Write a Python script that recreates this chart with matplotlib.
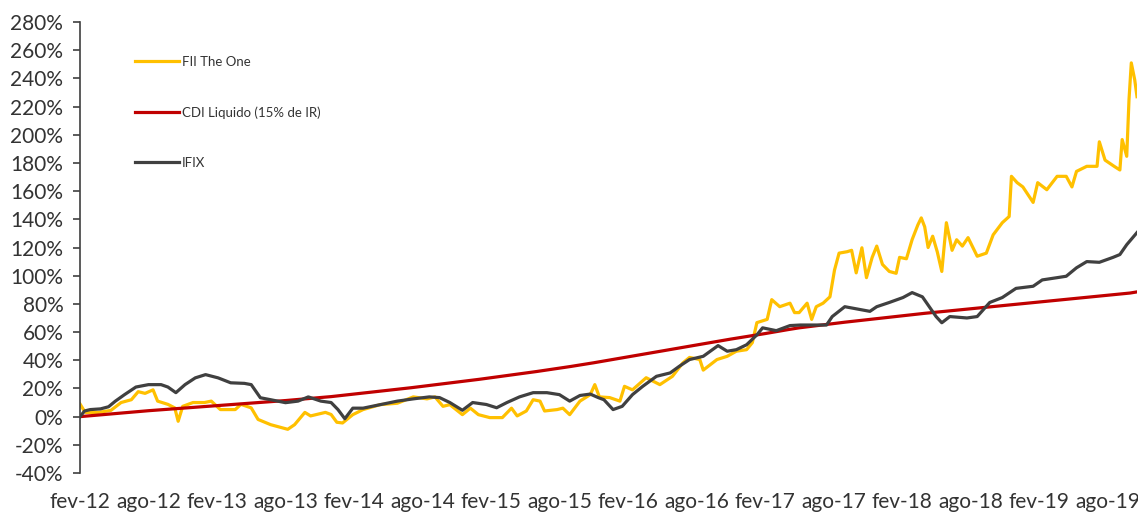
import matplotlib
matplotlib.use("Agg")
import matplotlib.pyplot as plt
from matplotlib.ticker import FuncFormatter

plt.rcParams['font.family'] = ['Lato', 'DejaVu Sans']

# x values are months since Feb 2012
tick_labels = ["fev-12", "ago-12", "fev-13", "ago-13", "fev-14", "ago-14", "fev-15", "ago-15",
               "fev-16", "ago-16", "fev-17", "ago-17", "fev-18", "ago-18", "fev-19", "ago-19"]

cdi_months = list(range(93)) + [92.6]
cdi_vals = [0.0, 0.7, 1.4, 2.1, 2.8, 3.5, 4.2, 4.8, 5.4, 6.0,
            6.6, 7.2, 7.8, 8.4, 9.0, 9.6, 10.2, 10.8, 11.4, 12.1,
            12.8, 13.5, 14.2, 15.1, 16.0, 16.9, 17.8, 18.7, 19.6, 20.5,
            21.5, 22.5, 23.5, 24.5, 25.5, 26.5, 27.6, 28.7, 29.8, 30.9,
            32.0, 33.2, 34.4, 35.6, 36.9, 38.2, 39.6, 41.0, 42.4, 43.8,
            45.2, 46.6, 48.0, 49.4, 50.8, 52.2, 53.6, 55.0, 56.3, 57.6,
            58.9, 60.3, 61.7, 63.0, 64.0, 65.0, 66.0, 67.0, 67.9, 68.8,
            69.7, 70.6, 71.5, 72.4, 73.3, 74.1, 74.9, 75.7, 76.5, 77.3,
            78.1, 78.9, 79.7, 80.5, 81.3, 82.1, 82.9, 83.7, 84.5, 85.3,
            86.1, 86.9, 87.7, 88.5]

ifix_months = [0.0, 0.4, 0.9, 1.8, 2.5, 3.1, 3.9, 4.9, 6.0, 7.1, 7.7, 8.4, 9.2, 10.1, 11.0,
               12.1, 13.2, 14.4, 15.0, 15.8, 16.7, 18.0, 19.1, 20.0, 21.1, 22.0, 22.6, 23.2,
               23.9, 24.8, 26.3, 27.8, 29.2, 30.6, 31.5, 32.4, 33.5, 34.4, 35.6, 36.5, 37.4,
               38.5, 39.7, 40.9, 42.0, 42.9, 43.8, 44.7, 45.4, 45.9, 46.7, 47.5, 48.4, 49.3,
               50.5, 51.7, 52.5, 53.4, 54.6, 55.9, 56.7, 57.5, 58.4, 59.3, 59.8, 61.0, 62.2,
               63.1, 64.2, 65.4, 65.9, 67.0, 68.0, 69.2, 69.8, 70.9, 72.1, 72.9, 73.8, 74.4,
               75.0, 75.5, 76.2, 77.7, 78.6, 79.7, 80.8, 82.0, 83.5, 84.3, 85.6, 86.4, 87.3,
               88.2, 89.3, 90.5, 91.1, 91.7, 92.6]
ifix_vals = [0, 4, 5, 5.5, 7, 11, 15.6, 21, 22.7, 22.7, 21, 17, 22.7, 27.5, 29.8,
             27.5, 24, 23.6, 22.7, 13.4, 12, 9.9, 11, 14, 11, 10, 5, -1.5,
             6, 6, 8.5, 11, 12.6, 14, 13.5, 10, 4.5, 10, 8.6, 6.3, 10,
             14, 17, 17, 15.6, 11, 15, 16, 13.5, 12, 5, 7.3, 15.6, 21.5,
             28.6, 31, 35.7, 40.5, 42.8, 50.4, 46.4, 47.5, 51, 58, 63, 61, 64.6,
             65, 65, 65, 71, 78, 76.5, 74.7, 78, 81, 84.5, 88, 85, 78,
             71, 66.6, 71, 70, 71, 81, 84.5, 91, 92.5, 97, 98.6, 99.6, 105.6,
             110, 109.5, 113, 115, 122, 130.6]

fii_months = [0.0, 0.3, 0.5, 1.6, 2.7, 3.6, 4.5, 5.1, 5.7, 6.4, 6.8, 7.7, 8.3, 8.6, 9.0,
              9.9, 10.9, 11.5, 12.3, 13.6, 14.1, 15.0, 15.6, 16.7, 18.2, 18.8, 19.7, 20.2,
              21.5, 22.0, 22.5, 23.0, 23.9, 24.8, 26.3, 27.8, 29.2, 30.4, 31.1, 31.8, 32.4,
              33.5, 34.2, 34.9, 35.9, 37.0, 37.8, 38.3, 39.1, 39.7, 40.3, 40.7, 41.8, 42.3,
              42.9, 43.8, 44.7, 45.1, 45.5, 46.4, 47.3, 47.7, 48.4, 49.6, 50.8, 51.9, 52.8,
              53.4, 54.3, 54.6, 55.8, 56.7, 57.5, 58.4, 58.9, 59.3, 60.2, 60.6, 61.3, 62.2,
              62.6, 63.0, 63.7, 64.1, 64.5, 65.1, 65.7, 66.1, 66.5, 67.2, 67.6, 68.0, 68.5,
              68.9, 69.4, 69.8, 70.3, 70.9, 71.5, 71.8, 72.4, 72.9, 73.4, 73.7, 74.0, 74.3,
              74.7, 75.1, 75.5, 75.9, 76.4, 76.8, 77.3, 77.8, 78.6, 79.4, 80.0, 80.8, 81.4,
              81.6, 82.1, 82.6, 83.5, 83.9, 84.7, 85.6, 86.4, 86.9, 87.3, 88.2, 89.1, 89.3,
              89.8, 90.6, 91.1, 91.3, 91.7, 91.9, 92.1, 92.4, 92.6]
fii_vals = [9, 5, 3, 3, 4.4, 10, 12, 17.7, 16.5, 19, 11, 8.7, 6.2, -3.3, 7.3,
            10, 10, 11, 5, 5, 8.7, 6.2, -2, -5.7, -9, -5.7, 3, 0.5,
            3, 1.5, -4, -4.5, 1.4, 5, 8.5, 9.5, 14, 12.6, 14, 7.3, 8.5,
            1.4, 6, 1.4, -0.7, -0.7, 6, 0.5, 4, 12, 11, 4, 5, 6,
            1.4, 11, 15.6, 22.7, 14, 13.5, 11, 21.5, 19, 27.6, 22.7, 28.6, 38,
            42, 40.5, 33, 40.5, 42.8, 46.4, 47.5, 52.5, 66.7, 69, 83, 78, 80.5,
            73.8, 73.8, 80.5, 69, 78, 80.5, 85, 104, 116, 117, 118, 102, 119.8,
            98.6, 113, 121, 108, 103, 101.7, 113, 112, 125.6, 136, 141, 134.7, 120,
            128, 117, 103, 137.6, 118, 125.5, 121, 127, 113.8, 116, 129, 137.6, 142,
            170.5, 166, 163, 152, 166, 161, 170.5, 170.5, 163, 174, 177.6, 177.6, 195,
            182, 177.6, 175, 196.6, 184.7, 225, 251, 239, 227]

fig = plt.figure(figsize=(11.38, 5.13), dpi=100)
ax = fig.add_axes([80 / 1138, 1 - 473 / 513, 1057 / 1138, 451 / 513])

ax.plot(fii_months, fii_vals, color="#FFC000", lw=2.3, label="FII The One")
ax.plot(cdi_months, cdi_vals, color="#C00000", lw=2.3, label="CDI Liquido (15% de IR)")
ax.plot(ifix_months, ifix_vals, color="#404040", lw=2.3, label="IFIX")

ax.set_xlim(0, 92.6)
ax.set_ylim(-40, 280)
ax.set_yticks(range(-40, 281, 20))
ax.yaxis.set_major_formatter(FuncFormatter(lambda v, p: f"{int(v)}%"))
ax.set_xticks(range(0, 91, 6))
ax.set_xticklabels(tick_labels)

for s in ["top", "right", "bottom"]:
    ax.spines[s].set_visible(False)
ax.spines["left"].set_color("#404040")
ax.spines["left"].set_linewidth(1.2)
ax.tick_params(axis="y", direction="out", length=5, width=1.2, color="#404040",
               labelsize=15, labelcolor="#333333", pad=7)
ax.tick_params(axis="x", length=0, labelsize=15, labelcolor="#333333", pad=14)

leg = ax.legend(loc="upper left", bbox_to_anchor=(0.041, 0.951), frameon=False,
                fontsize=9.5, handlelength=3.3, handletextpad=0.25, labelspacing=2.9)
for t in leg.get_texts():
    t.set_color("#333333")

fig.savefig("out.png", dpi=100)
